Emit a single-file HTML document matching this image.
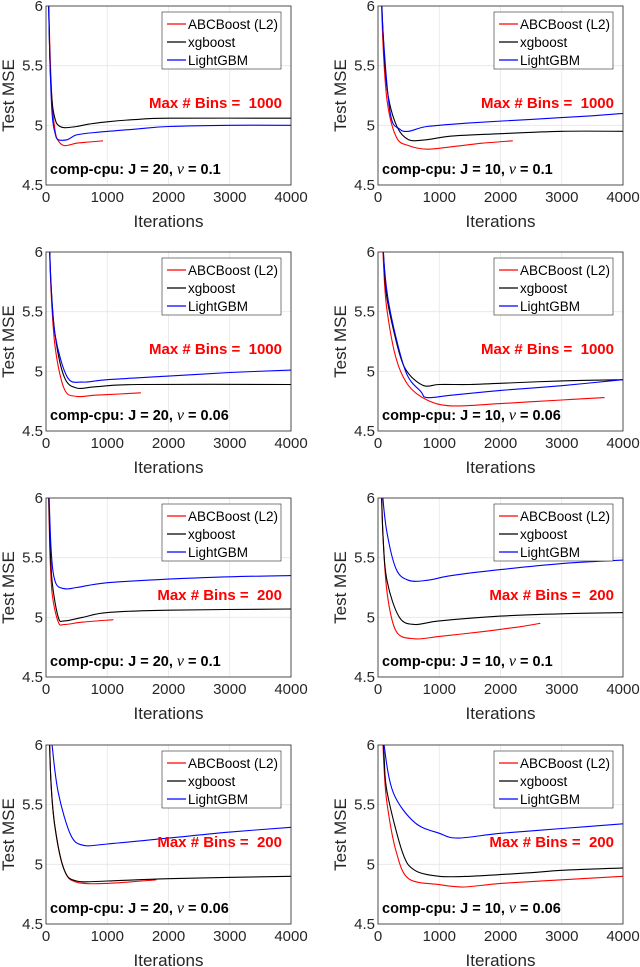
<!DOCTYPE html>
<html><head><meta charset="utf-8"><style>
body{margin:0;background:#fff;width:640px;height:967px;overflow:hidden}
svg{display:block;font-family:"Liberation Sans",sans-serif}
</style></head><body>
<svg id="fig" width="640" height="967"></svg>
<script>
const xTicks=[0,1000,2000,3000,4000];
const yTicks=[4.5,5,5.5,6];
const yTickLabels=["4.5","5","5.5","6"];
const seriesNames=["ABCBoost (L2)","xgboost","LightGBM"];
const seriesColors=["#ff0000","#000000","#0000ff"];
const panelJ=["20","10","20","10","20","10","20","10"];
const panelNu=["0.1","0.1","0.06","0.06","0.1","0.1","0.06","0.06"];
const panelBins=["1000","1000","1000","1000","200","200","200","200"];
// each series: [iteration, mse] pairs
const p1red=[[30,6.4],[60,5.7],[100,5.2],[150,4.95],[200,4.87],[300,4.83],[500,4.85],[700,4.86],[930,4.87]];
const p1black=[[30,6.4],[60,5.6],[100,5.2],[150,5.05],[200,5.0],[300,4.98],[500,4.99],[700,5.01],[1000,5.03],[1500,5.05],[2000,5.06],[4000,5.06]];
const p1blue=[[30,6.4],[60,5.6],[100,5.1],[150,4.93],[200,4.88],[350,4.88],[500,4.92],[800,4.94],[1500,4.97],[2000,4.99],[3000,5.0],[4000,5.0]];
const p2red=[[40,6.4],[80,5.7],[150,5.2],[300,4.9],[500,4.83],[800,4.8],[1200,4.82],[1700,4.85],[2200,4.87]];
const p2black=[[40,6.4],[80,5.8],[150,5.3],[300,5.0],[500,4.88],[800,4.88],[1200,4.91],[2000,4.93],[3000,4.95],[4000,4.95]];
const p2blue=[[40,6.4],[80,5.8],[200,5.1],[350,4.97],[500,4.95],[800,4.99],[1500,5.02],[2500,5.05],[3500,5.08],[4000,5.1]];
const p3red=[[40,6.4],[80,5.7],[150,5.2],[300,4.85],[500,4.79],[800,4.8],[1200,4.81],[1550,4.82]];
const p3black=[[40,6.4],[80,5.75],[150,5.3],[300,4.95],[500,4.86],[800,4.87],[1500,4.89],[4000,4.89]];
const p3blue=[[40,6.4],[80,5.75],[150,5.3],[350,4.95],[600,4.91],[1000,4.93],[2000,4.96],[3000,4.99],[4000,5.01]];
const p4red=[[50,6.4],[100,5.8],[150,5.5],[300,5.1],[500,4.88],[800,4.76],[1200,4.71],[2000,4.73],[3000,4.76],[3700,4.78]];
const p4black=[[50,6.4],[100,5.9],[150,5.6],[350,5.15],[500,4.98],[750,4.88],[1000,4.89],[1500,4.89],[2000,4.9],[3000,4.92],[4000,4.93]];
const p4blue=[[50,6.4],[100,5.9],[200,5.5],[450,5.0],[700,4.83],[800,4.78],[1200,4.8],[2000,4.84],[3000,4.88],[4000,4.93]];
const p5red=[[30,6.4],[60,5.6],[100,5.2],[200,4.96],[300,4.94],[600,4.96],[1100,4.98]];
const p5black=[[30,6.4],[60,5.7],[100,5.3],[200,5.0],[300,4.97],[600,5.0],[1000,5.04],[2000,5.06],[4000,5.07]];
const p5blue=[[30,6.4],[80,5.6],[150,5.3],[300,5.24],[500,5.25],[1000,5.29],[2000,5.32],[3000,5.34],[4000,5.35]];
const p6red=[[40,6.4],[80,5.7],[150,5.2],[300,4.88],[600,4.82],[1000,4.84],[1700,4.88],[2300,4.92],[2650,4.95]];
const p6black=[[40,6.4],[80,5.7],[150,5.3],[350,5.0],[600,4.94],[1000,4.97],[2000,5.01],[3000,5.03],[4000,5.04]];
const p6blue=[[40,6.4],[80,6.0],[150,5.7],[300,5.4],[500,5.31],[800,5.31],[1200,5.35],[2000,5.4],[3000,5.45],[4000,5.48]];
const p7red=[[40,6.4],[80,5.7],[150,5.3],[300,4.95],[500,4.85],[1000,4.84],[1800,4.87]];
const p7black=[[40,6.4],[80,5.7],[150,5.3],[300,4.95],[500,4.86],[1000,4.86],[2000,4.88],[4000,4.9]];
const p7blue=[[40,6.4],[100,6.0],[200,5.6],[400,5.25],[600,5.16],[1000,5.17],[2000,5.22],[3000,5.27],[4000,5.31]];
const p8red=[[50,6.4],[100,5.8],[150,5.5],[300,5.1],[500,4.88],[1000,4.83],[1400,4.81],[2000,4.84],[3000,4.87],[4000,4.9]];
const p8black=[[50,6.4],[100,5.9],[150,5.6],[400,5.1],[600,4.95],[1000,4.9],[1500,4.9],[2500,4.93],[3000,4.95],[4000,4.97]];
const p8blue=[[50,6.4],[100,6.0],[250,5.6],[600,5.35],[1000,5.26],[1300,5.22],[2000,5.26],[3000,5.3],[4000,5.34]];
const panelSeries=[[p1red,p1black,p1blue],[p2red,p2black,p2blue],[p3red,p3black,p3blue],[p4red,p4black,p4blue],[p5red,p5black,p5blue],[p6red,p6black,p6blue],[p7red,p7black,p7blue],[p8red,p8black,p8blue]];

const NS="http://www.w3.org/2000/svg";
const fig=document.getElementById('fig');
function mk(tag,attrs,parent,text){const e=document.createElementNS(NS,tag);for(const k in attrs)e.setAttribute(k,attrs[k]);if(text!==undefined)e.textContent=text;parent.appendChild(e);return e;}
function smooth(pts){ // Catmull-Rom to bezier
  let d='M'+pts[0][0].toFixed(1)+','+pts[0][1].toFixed(1);
  for(let i=0;i<pts.length-1;i++){
    const p0=pts[Math.max(0,i-1)],p1=pts[i],p2=pts[i+1],p3=pts[Math.min(pts.length-1,i+2)];
    const t=0.16;
    const c1=[p1[0]+(p2[0]-p0[0])*t,p1[1]+(p2[1]-p0[1])*t];
    const c2=[p2[0]-(p3[0]-p1[0])*t,p2[1]-(p3[1]-p1[1])*t];
    d+='C'+c1[0].toFixed(1)+','+c1[1].toFixed(1)+' '+c2[0].toFixed(1)+','+c2[1].toFixed(1)+' '+p2[0].toFixed(1)+','+p2[1].toFixed(1);
  }
  return d;
}
const colX=[46,378], rowY=[6,252,498,745], PW=245, PH=179;
for(let p=0;p<8;p++){
  const ox=colX[p%2], oy=rowY[Math.floor(p/2)];
  const sx=v=>ox+v/4000*PW, sy=v=>oy+PH-(v-4.5)/1.5*PH;
  const g=mk('g',{},fig);
  
  
  mk('rect',{x:ox,y:oy,width:PW,height:PH,fill:'#fff'},g);
  xTicks.forEach(t=>{mk('line',{x1:sx(t),x2:sx(t),y1:oy,y2:oy+PH,stroke:'#e6e6e6','stroke-width':0.8},g);
    const l=mk('text',{x:sx(t),y:oy+PH+17,'text-anchor':'middle','font-size':15,fill:'#262626'},g,String(t));
    });
  yTicks.forEach((t,i)=>{mk('line',{x1:ox,x2:ox+PW,y1:sy(t),y2:sy(t),stroke:'#e6e6e6','stroke-width':0.8},g);
    const l=mk('text',{x:ox-3,y:sy(t)+5,'text-anchor':'end','font-size':15,fill:'#262626'},g,yTickLabels[i]);
    });
  const cid='clip'+p;
  const cp=mk('clipPath',{id:cid},g);mk('rect',{x:ox,y:oy,width:PW,height:PH},cp);
  panelSeries[p].forEach((s,si)=>{
    const d=smooth(s.map(pt=>[sx(pt[0]),sy(pt[1])]));
    const path=mk('path',{d:d,fill:'none',stroke:seriesColors[si],'stroke-width':1.1,'clip-path':'url(#'+cid+')','stroke-linejoin':'round'},g);
    
    
  });
  mk('rect',{x:ox,y:oy,width:PW,height:PH,fill:'none',stroke:'#262626','stroke-width':0.8},g);
  const lg=mk('g',{},g);
  
  
  const lx=ox+116, ly=oy+6;
  mk('rect',{x:lx,y:ly,width:119,height:57,fill:'#fff',stroke:'#262626','stroke-width':0.6},lg);
  seriesNames.forEach((n,i)=>{const yy=ly+12+i*18;
    mk('line',{x1:lx+5,x2:lx+24,y1:yy,y2:yy,stroke:seriesColors[i],'stroke-width':1.2},lg);
    const t=mk('text',{x:lx+26,y:yy+5,'font-size':13.5,fill:'#000'},lg,n);
    });
  const bt=mk('text',{x:ox+236,y:oy+102,'text-anchor':'end','font-size':15,'font-weight':'bold',fill:'#ff0000'},g,'Max # Bins =  '+panelBins[p]);
  
  bt.style.whiteSpace='pre';
  const tt=mk('text',{x:ox+4,y:oy+PH-11,'font-size':14.5,'font-weight':'bold',fill:'#000'},g);
  
  mk('tspan',{},tt,'comp-cpu: J = '+panelJ[p]+', ');
  mk('tspan',{'font-style':'italic','font-weight':'normal','font-family':'"Liberation Serif",serif','font-size':16},tt,'ν');
  mk('tspan',{},tt,' = '+panelNu[p]);
  const xl=mk('text',{x:ox+PW/2,y:oy+PH+42,'text-anchor':'middle','font-size':17,fill:'#262626'},g,'Iterations');
  
  const yx=ox-32, yy=oy+PH/2;
  const yl=mk('text',{x:yx,y:yy,'text-anchor':'middle','font-size':17,fill:'#262626',transform:'rotate(-90 '+yx+' '+yy+')'},g,'Test MSE');
  
}
</script>
</body></html>
